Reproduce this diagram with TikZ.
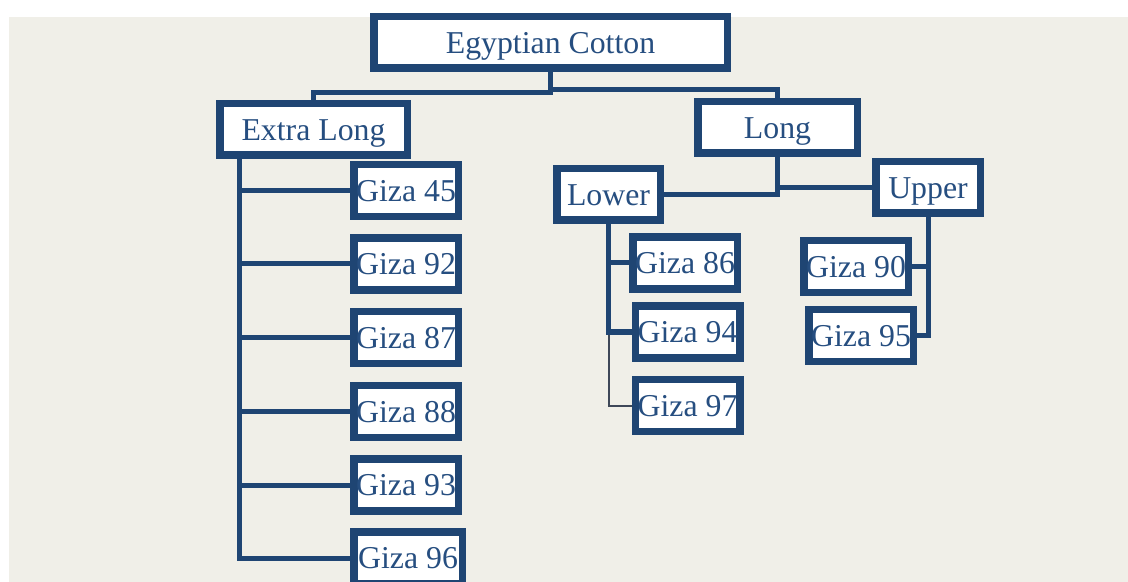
\documentclass[tikz,border=0pt]{standalone}
\usepackage{fontspec}
\setmainfont{Liberation Serif}
\usepackage{tikz}
\usetikzlibrary{positioning,shadows,calc}
\usepackage{xcolor}
\definecolor{ctnavy}{RGB}{31,69,115}
\definecolor{ctink}{RGB}{38,78,128}
\definecolor{ctbeige}{RGB}{240,239,232}
\definecolor{ctgrey}{RGB}{62,72,88}
\tikzstyle{link} = [line width=2.5pt, color=ctnavy]
\tikzstyle{thinlink} = [line width=1pt, color=ctgrey]
\tikzstyle{cottonbox} = [rectangle, draw=ctnavy, fill=white, line width=3.75pt, inner sep=0pt, text=ctink, font=\fontsize{15.9}{18}\selectfont, text height=10.8pt, text depth=0pt, minimum height=25.75pt, drop shadow={opacity=0.25, shadow xshift=1pt, shadow yshift=-1.5pt}]
\tikzstyle{gizabox} = [cottonbox, minimum width=52.25pt, minimum height=26pt]

\begin{document}
\begin{tikzpicture}[x=0.5pt, y=-0.5pt]
\useasboundingbox (0,0) rectangle (1128,582);
\clip (0,0) rectangle (1128,582);
\fill[ctbeige] (9,17) rectangle (1128,582);

% Root
\node[cottonbox, minimum width=176.75pt] (ec) at (550.5,42.5) {Egyptian Cotton};

% Staple lengths
\node[cottonbox, minimum width=93.75pt] (xl) at (313.5,129.5) {Extra Long};
\node[cottonbox, minimum width=79.75pt] (lg) at (777.5,127.5) {Long};
\node[cottonbox, minimum width=51.75pt] (lw) at (608.5,194.5) {Lower};
\node[cottonbox, minimum width=52.25pt] (up) at (928,187.5) {Upper};

% Extra long varieties
\node[gizabox] (g45) at (406,190.5) {Giza 45};
\node[gizabox] (g92) at (406,264) {Giza 92};
\node[gizabox] (g87) at (406,337.5) {Giza 87};
\node[gizabox] (g88) at (406,411.5) {Giza 88};
\node[gizabox] (g93) at (406,485) {Giza 93};
\node[gizabox, minimum width=54.25pt] (g96) at (408,558) {Giza 96};

% Long, lower
\node[gizabox] (g86) at (685,263) {Giza 86};
\node[gizabox] (g94) at (687.5,332) {Giza 94};
\node[gizabox] (g97) at (687.5,405.5) {Giza 97};

% Long, upper
\node[gizabox] (g90) at (856,266.5) {Giza 90};
\node[gizabox] (g95) at (861,335.5) {Giza 95};

% Connectors
\coordinate (xlturn) at (313.5,93);
\coordinate (lgturn) at (777.5,90);
\draw[link] (ec.south) |- (xlturn) -- (xl.north);
\draw[link] (ec.south) |- (lgturn) -- (lg.north);

\foreach \g in {g45,g92,g87,g88,g93,g96}
  \draw[link] ([xshift=11.5pt]xl.south west) |- (\g.west);

\draw[link] (lg.south) |- (lw.east);
\draw[link] (lg.south) |- (up.west);

\draw[thinlink] (lw.south) |- (g97.west);
\draw[link] (lw.south) |- (g86.west);
\draw[link] (lw.south) |- (g94.west);

\draw[link] (up.south) |- (g90.east);
\draw[link] (up.south) |- (g95.east);
\end{tikzpicture}
\end{document}
